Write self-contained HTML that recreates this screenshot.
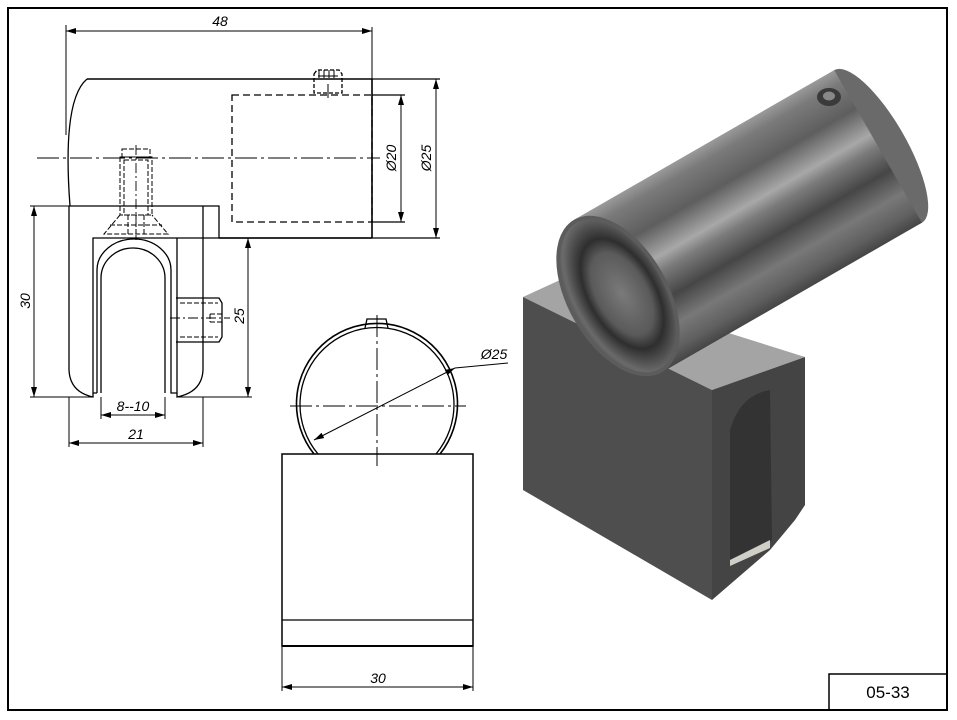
<!DOCTYPE html>
<html><head><meta charset="utf-8"><style>
html,body{margin:0;padding:0;background:#fff;}
svg{display:block;}
text{font-family:"Liberation Sans",sans-serif;font-style:italic;font-size:14px;fill:#000;}
</style></head><body>
<svg width="957" height="720" viewBox="0 0 957 720" xmlns="http://www.w3.org/2000/svg">
<defs>
<marker id="a" viewBox="0 0 10 6" refX="10" refY="3" markerWidth="10" markerHeight="6" orient="auto-start-reverse" markerUnits="userSpaceOnUse"><path d="M0,0 L10,3 L0,6 z" fill="#000"/></marker>
<linearGradient id="cyl" x1="0" y1="0" x2="0" y2="1">
<stop offset="0" stop-color="#9a9a9a"/><stop offset="0.08" stop-color="#7a7a7a"/>
<stop offset="0.25" stop-color="#5e5e5e"/><stop offset="0.42" stop-color="#a8a8a8"/>
<stop offset="0.5" stop-color="#7a7a7a"/><stop offset="0.65" stop-color="#464646"/>
<stop offset="0.8" stop-color="#787878"/><stop offset="0.92" stop-color="#606060"/>
<stop offset="1" stop-color="#454545"/></linearGradient>
<radialGradient id="face" cx="0.55" cy="0.5" r="0.6">
<stop offset="0" stop-color="#7a7a7a"/><stop offset="0.45" stop-color="#5a5a5a"/><stop offset="0.6" stop-color="#2e2e2e"/><stop offset="0.85" stop-color="#6a6a6a"/><stop offset="1" stop-color="#505050"/></radialGradient>
</defs>
<rect x="8" y="8" width="939" height="702" fill="none" stroke="#000" stroke-width="2"/>
<rect x="829" y="674" width="118" height="36" fill="none" stroke="#000" stroke-width="1.5"/>
<text x="888" y="698" text-anchor="middle" style="font-style:normal;font-size:17px">05-33</text>

<g fill="none" stroke="#000" stroke-width="1.3">
<path d="M87,79 L372,79 M372,79 L372,238 M219,238 L372,238" stroke-width="1.6"/>
<path d="M87,79 Q62,100 70,206"/>
<rect x="232" y="95" width="140" height="127" stroke-dasharray="7,4"/>
<path d="M372,95 L405,95 M372,222 L405,222 M372,79 L440,79 M372,238 L440,238"/>
<path d="M314,74 L317,70 L339,70 L342,74 L342,93 L314,93 Z" stroke-dasharray="4,2"/>
<path d="M319,70 V78 M324,70 V78 M329,70 V78 M334,70 V78 M318,76 H338 M328,84 V98" stroke-width="1"/>
<path d="M37,158 L380,158" stroke-dasharray="22,4,3,4" stroke-width="1"/>
<path d="M69,206 L219,206 L219,238" />
<path d="M69,206 L69,370 Q70,392 93,397 L93,238 L372,238"/>
<path d="M203,206 L203,370 Q202,392 177,397 L177,238"/>
<path d="M97,393 L97,270 A37,31 0 0 1 171,270 L171,393 L177,393 M93,393 L97,393"/>
<path d="M101,393 L101,278 A32,30 0 0 1 165,278 L165,393"/>
<g stroke-dasharray="5,2" stroke-width="1">
<rect x="122" y="149" width="28" height="8"/>
<rect x="120" y="157" width="32" height="58"/>
<rect x="124" y="160" width="24" height="55"/>
<path d="M120,215 L104,234 L168,234 L152,215"/>
<path d="M110,225 H162 M128,215 V234 M136,215 V234 M144,215 V234"/>
</g>
<path d="M136,145 V240" stroke-dasharray="10,3,2,3" stroke-width="0.9"/>
<path d="M176,298 L219,298 L222,303 L222,337 L219,342 L176,342"/>
<path d="M180,303 H218 M180,337 H218 M210,314 H222 M210,322 H222 M210,314 V322" stroke-dasharray="5,2" stroke-width="1"/>
<path d="M170,318 H230" stroke-dasharray="10,3,2,3" stroke-width="0.9"/>
<path d="M66,25 L66,135 M372,27 L372,79" stroke-width="1"/>
<path d="M66,31 L372,31" marker-start="url(#a)" marker-end="url(#a)" stroke-width="1"/>
<path d="M401,95 L401,222" marker-start="url(#a)" marker-end="url(#a)" stroke-width="1"/>
<path d="M436,79 L436,238" marker-start="url(#a)" marker-end="url(#a)" stroke-width="1"/>
<path d="M30,206 L69,206 M30,397 L93,397 M177,397 L252,397 M219,238 L252,238" stroke-width="1"/>
<path d="M34,206 L34,397" marker-start="url(#a)" marker-end="url(#a)" stroke-width="1"/>
<path d="M248,238 L248,397" marker-start="url(#a)" marker-end="url(#a)" stroke-width="1"/>
<path d="M101,397 L101,419 M165,397 L165,419 M69,397 L69,447 M203,397 L203,447" stroke-width="1"/>
<path d="M101,415 L165,415" marker-start="url(#a)" marker-end="url(#a)" stroke-width="1"/>
<path d="M69,443 L203,443" marker-start="url(#a)" marker-end="url(#a)" stroke-width="1"/>

<path d="M314,454 A80.5,80.5 0 1 1 440,454" stroke-width="1.6"/>
<path d="M318,454 A77,77 0 1 1 436,454"/>
<path d="M365,328 L367,319 L386,319 L388,328"/>
<rect x="282" y="454" width="191" height="192" stroke-width="1.5"/>
<path d="M282,620 L473,620"/>
<path d="M282,646 L473,646" stroke-width="2"/>
<path d="M290,406 L466,406 M377,315 L377,466" stroke-dasharray="22,4,3,4" stroke-width="1"/>
<path d="M455,368 L508,363" stroke-width="1"/>
<path d="M314,440 L455,368" marker-start="url(#a)" marker-end="url(#a)" stroke-width="1"/>
<path d="M282,646 L282,691 M473,646 L473,691" stroke-width="1"/>
<path d="M282,687 L473,687" marker-start="url(#a)" marker-end="url(#a)" stroke-width="1"/>
</g>
<text x="220" y="26" text-anchor="middle">48</text>
<text transform="translate(396,158) rotate(-90)" text-anchor="middle">Ø20</text>
<text transform="translate(431,158) rotate(-90)" text-anchor="middle">Ø25</text>
<text transform="translate(30,301) rotate(-90)" text-anchor="middle">30</text>
<text transform="translate(244,316) rotate(-90)" text-anchor="middle">25</text>
<text x="133" y="411" text-anchor="middle">8--10</text>
<text x="136" y="439" text-anchor="middle">21</text>
<text x="494" y="359" text-anchor="middle">Ø25</text>
<text x="378" y="683" text-anchor="middle">30</text>

<polygon points="523,297 560,280 805,357 712,390" fill="#a4a4a4"/>
<polygon points="523,297 712,390 712,600 523,490" fill="#4e4e4e"/>
<polygon points="712,390 805,357 805,505 795,520 770,550 712,600" fill="#444"/>
<path d="M730,560 L730,430 Q740,395 770,390 L772,540 Z" fill="#333"/>
<path d="M730,560 L770,540 L770,548 L730,566 Z" fill="#cfcfc8"/>
<g transform="translate(618,296) rotate(-29.9)">
<ellipse cx="300" cy="0" rx="28" ry="88" fill="#6a6a6a"/>
<rect x="0" y="-88" width="300" height="176" fill="url(#cyl)"/>
<ellipse cx="0" cy="0" rx="50" ry="88" fill="#5c5c5c"/>
<ellipse cx="0" cy="0" rx="46" ry="84" fill="url(#face)"/>
</g>
<ellipse cx="829" cy="97" rx="12" ry="9" fill="#3a3a3a"/>
<ellipse cx="829" cy="96" rx="6" ry="4.5" fill="#888"/>
</svg>
</body></html>
